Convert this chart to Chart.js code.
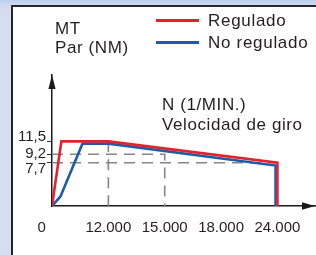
<!DOCTYPE html>
<html>
<head>
<meta charset="utf-8">
<script src="https://cdn.jsdelivr.net/npm/chart.js@4/dist/chart.umd.min.js"></script>
<style>
html,body{margin:0;padding:0}
body{width:316px;height:255px;overflow:hidden;position:relative;
  background:linear-gradient(180deg,#bfd0ec 0,#cfd9f0 5px,#d6ddef 12px,#d6ddef 100%);
  font-family:"Liberation Sans",Arial,sans-serif;color:#231f20}
#panel{position:absolute;left:11px;top:5px;width:330px;height:270px;background:#fff;
  border-left:2px solid #262626;border-top:2px solid #262626}
#chart{position:absolute;left:0;top:0}
.txt{position:absolute;font-size:17px;letter-spacing:0.6px;white-space:nowrap}
#legend{position:absolute;left:156px;top:10px}
.row{display:flex;align-items:center;height:21.6px;line-height:21.6px;font-size:17px;letter-spacing:0.7px;white-space:nowrap}
.row .ln{display:inline-block;width:43px;height:3px;margin-right:9px}
</style>
</head>
<body>
<div id="panel"></div>
<canvas id="chart" width="316" height="255"></canvas>
<div class="txt" style="left:55px;top:18.5px;line-height:19.3px">MT<br>Par (NM)</div>
<div class="txt" style="left:162px;top:95px;line-height:20px">N (1/MIN.)<br>Velocidad de giro</div>
<div id="legend"></div>
<script>
// ticks (x axis is drawn schematic: ticks evenly spaced)
var xTickValues = [0, 12000, 15000, 18000, 24000];
var xTickLabels = ['0', '12.000', '15.000', '18.000', '24.000'];
var yTickValues = [7.7, 9.2, 11.5];
var yTickLabels = ['7,7', '9,2', '11,5'];

var seriesNames = ['Regulado', 'No regulado'];

// rpm / torque (NM)
var reguladoRpm = [0, 2000, 12000, 24000, 24000];
var reguladoPar = [0, 11.5, 11.5, 7.7, 0];
var noReguladoRpm = [0, 1800, 6500, 12000, 23800, 23800];
var noReguladoPar = [0, 1.7, 11.1, 11.1, 7.2, 0];

// dashed reference lines
var guide92Rpm = [0, 15000, 15000];
var guide92Par = [9.2, 9.2, 0];
var guide77Rpm = [0, 24000];
var guide77Par = [7.7, 7.7];
var guide12kRpm = [12000, 12000];
var guide12kPar = [11.5, 0];

var RED = '#e3222c';
var BLUE = '#1d5ca8';
var GREY = '#868686';
var TEXT = '#231f20';

function pts(xs, ys){
	return xs.map(function(x, i){ return {x: x, y: ys[i]}; });
}

// rpm -> position in tick steps, linear between ticks
function rpmToIdx(v){
	var b = xTickValues, n = b.length - 1;
	if (v <= b[0]) return (v - b[0]) / (b[1] - b[0]);
	for (var i = 1; i <= n; i++) {
		if (v <= b[i]) return i - 1 + (v - b[i-1]) / (b[i] - b[i-1]);
	}
	return n + (v - b[n]) / (b[n] - b[n-1]);
}
function idxToRpm(t){
	var b = xTickValues, n = b.length - 1;
	if (t <= 0) return b[0] + t * (b[1] - b[0]);
	if (t >= n) return b[n] + (t - n) * (b[n] - b[n-1]);
	var i = Math.floor(t);
	return b[i] + (t - i) * (b[i+1] - b[i]);
}

class StepScale extends Chart.LinearScale {
	getPixelForValue(v){
		if (v === null || v === undefined) return NaN;
		var a = rpmToIdx(this.min), b = rpmToIdx(this.max);
		return this.getPixelForDecimal((rpmToIdx(v) - a) / (b - a));
	}
	getValueForPixel(p){
		var a = rpmToIdx(this.min), b = rpmToIdx(this.max);
		return idxToRpm(a + this.getDecimalForPixel(p) * (b - a));
	}
}
StepScale.id = 'step';
StepScale.defaults = Chart.LinearScale.defaults;
Chart.register(StepScale);

var arrows = {
	id: 'arrows',
	afterDraw: function(chart){
		var ctx = chart.ctx, a = chart.chartArea;
		ctx.save();
		ctx.fillStyle = '#1a1a1a';
		ctx.beginPath();
		ctx.moveTo(a.left, a.top);
		ctx.lineTo(a.left - 3.6, a.top + 14);
		ctx.lineTo(a.left + 3.6, a.top + 14);
		ctx.closePath();
		ctx.fill();
		ctx.beginPath();
		ctx.moveTo(a.right, a.bottom);
		ctx.lineTo(a.right - 13, a.bottom - 3.7);
		ctx.lineTo(a.right - 13, a.bottom + 3.7);
		ctx.closePath();
		ctx.fill();
		ctx.restore();
	}
};

function mainLine(label, data, color){
	return {
		label: label, data: data,
		borderColor: color, backgroundColor: color,
		borderWidth: 2.6, pointRadius: 0, tension: 0,
		borderJoinStyle: 'miter', fill: false, order: 0
	};
}
function guideLine(data){
	return {
		label: '', data: data,
		borderColor: GREY, borderWidth: 1.6, borderDash: [11, 7],
		pointRadius: 0, tension: 0, fill: false, order: 1
	};
}

Chart.defaults.font.family = '"Liberation Sans", Arial, sans-serif';
Chart.defaults.color = TEXT;

new Chart(document.getElementById('chart'), {
	type: 'line',
	data: {
		datasets: [
			mainLine(seriesNames[0], pts(reguladoRpm, reguladoPar), RED),
			mainLine(seriesNames[1], pts(noReguladoRpm, noReguladoPar), BLUE),
			guideLine(pts(guide92Rpm, guide92Par)),
			guideLine(pts(guide77Rpm, guide77Par)),
			guideLine(pts(guide12kRpm, guide12kPar))
		]
	},
	options: {
		responsive: false,
		animation: false,
		devicePixelRatio: 1,
		layout: { padding: { left: 0, top: 75, right: 1, bottom: 0 } },
		plugins: { legend: { display: false }, tooltip: { enabled: false } },
		scales: {
			x: {
				type: 'step', min: 0, max: 28000,
				afterFit: function(s){ s.height = 49; },
				afterBuildTicks: function(s){ s.ticks = xTickValues.map(function(v){ return {value: v}; }); },
				grid: { display: false },
				border: { display: true, color: '#1a1a1a', width: 1.5 },
				ticks: {
					autoSkip: false, maxRotation: 0, padding: 5,
					font: { size: 15 }, color: TEXT,
					// the origin label sits left of the axis in the original
					callback: function(v, i){ return i === 0 ? xTickLabels[0] + '     ' : xTickLabels[i]; }
				}
			},
			y: {
				min: 0, max: 23.3,
				afterFit: function(s){ s.width = 52; },
				afterBuildTicks: function(s){ s.ticks = yTickValues.map(function(v){ return {value: v}; }); },
				grid: { drawOnChartArea: false, drawTicks: true, tickLength: 5, color: '#333', lineWidth: 1 },
				border: { display: true, color: '#1a1a1a', width: 1.5 },
				ticks: {
					autoSkip: false, padding: 1, color: TEXT,
					// labels are spread apart a little in the original, so nudge the outer two
					font: function(c){
						var lh = c.index === 0 ? '12px' : (c.index === 2 ? '8px' : 1.2);
						return { size: 15, lineHeight: lh };
					},
					callback: function(v, i){
						if (i === 0) return ['', yTickLabels[i]];
						if (i === 2) return [yTickLabels[i], ''];
						return yTickLabels[i];
					}
				}
			}
		}
	},
	plugins: [arrows]
});

// legend, built from the series names
var legend = document.getElementById('legend');
[RED, BLUE].forEach(function(c, i){
	var row = document.createElement('div');
	row.className = 'row';
	var ln = document.createElement('span');
	ln.className = 'ln';
	ln.style.background = c;
	var t = document.createElement('span');
	t.textContent = seriesNames[i];
	row.appendChild(ln);
	row.appendChild(t);
	legend.appendChild(row);
});
</script>
</body>
</html>
